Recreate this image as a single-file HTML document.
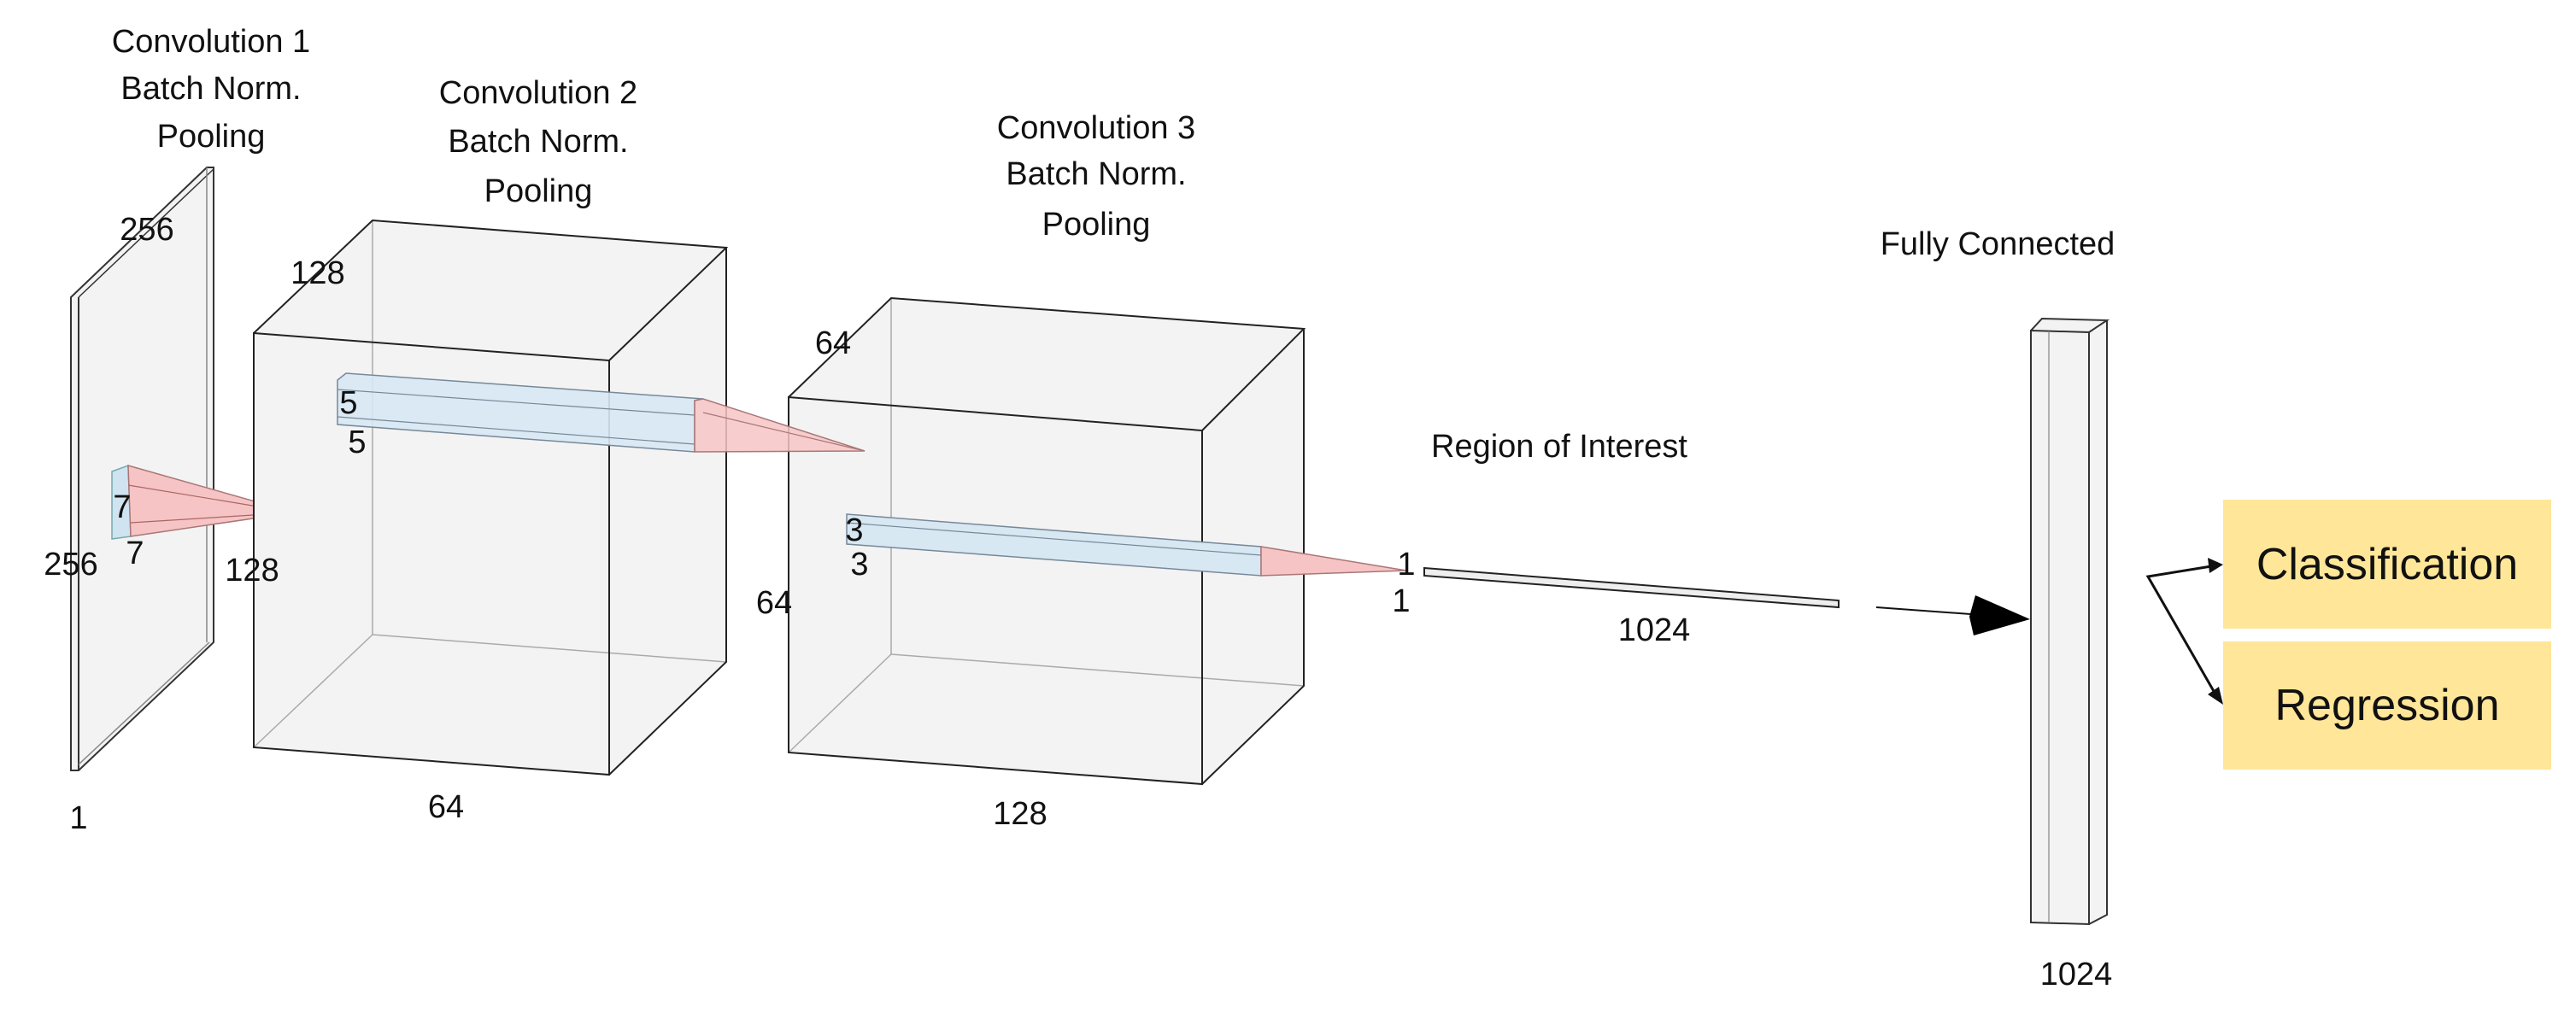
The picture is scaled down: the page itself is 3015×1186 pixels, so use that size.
<!DOCTYPE html>
<html><head><meta charset="utf-8"><style>
html,body{margin:0;padding:0;background:#fff;}
svg{display:block;}
.t{font-family:"Liberation Sans",sans-serif;fill:#111;}
.c{font-family:"Liberation Sans",sans-serif;fill:#111;font-size:38px;}
</style></head><body>
<svg width="3015" height="1186" viewBox="0 0 3015 1186" xmlns="http://www.w3.org/2000/svg">
<g class="c" text-anchor="middle">
<text x="247" y="61">Convolution 1</text>
<text x="247" y="116">Batch Norm.</text>
<text x="247" y="172">Pooling</text>
<text x="630" y="121">Convolution 2</text>
<text x="630" y="178">Batch Norm.</text>
<text x="630" y="236">Pooling</text>
<text x="1283" y="162">Convolution 3</text>
<text x="1283" y="216">Batch Norm.</text>
<text x="1283" y="275">Pooling</text>
<text x="1825" y="535">Region of Interest</text>
<text x="2338" y="298">Fully Connected</text>
</g>

<polygon points="83,348 242,196 250,196 250,752 92,902 83,902" fill="#f3f3f3" stroke="#333" stroke-width="2"/>
<line x1="92" y1="348" x2="92" y2="902" stroke="#333" stroke-width="2"/>
<line x1="92" y1="348" x2="250" y2="198" stroke="#333" stroke-width="1.5"/>
<line x1="242" y1="196" x2="242" y2="752" stroke="#888" stroke-width="1.5"/>
<line x1="92" y1="895" x2="245" y2="752" stroke="#888" stroke-width="1.5"/>

<polygon points="131,552 150,545 153,628 131,631" fill="#cfe3f1" stroke="#7aa" stroke-width="1.5"/>
<polygon points="150,545 344,600 153,628" fill="#f6c4c4" stroke="#a77" stroke-width="1.5"/>
<line x1="150" y1="568" x2="344" y2="600" stroke="#a66" stroke-width="1.2"/>
<line x1="153" y1="612" x2="344" y2="600" stroke="#a66" stroke-width="1.2"/>

<polygon points="297,390 436,258 850,290 850,775 713,907 297,875" fill="#f3f3f3"/>
<g stroke="#aaa" stroke-width="1.5" fill="none">
<line x1="436" y1="258" x2="436" y2="743"/>
<line x1="436" y1="743" x2="850" y2="775"/>
<line x1="436" y1="743" x2="297" y2="875"/>
</g>
<g stroke="#222" stroke-width="2" fill="none">
<polygon points="297,390 713,422 713,907 297,875"/>
<polyline points="297,390 436,258 850,290 713,422"/>
<polyline points="850,290 850,775 713,907"/>
</g>

<polygon points="923,465 1043,349 1526,385 1526,803 1407,918 923,881" fill="#f3f3f3"/>
<g stroke="#aaa" stroke-width="1.5" fill="none">
<line x1="1043" y1="349" x2="1043" y2="766"/>
<line x1="1043" y1="766" x2="1526" y2="803"/>
<line x1="1043" y1="766" x2="923" y2="881"/>
</g>
<g stroke="#222" stroke-width="2" fill="none">
<polygon points="923,465 1407,504 1407,918 923,881"/>
<polyline points="923,465 1043,349 1526,385 1407,504"/>
<polyline points="1526,385 1526,803 1407,918"/>
</g>

<polygon points="395,445 405,437 823,467 813,469 813,529 395,497" fill="#d7e8f3" fill-opacity="0.9" stroke="#789" stroke-width="1.5"/>
<line x1="395" y1="456" x2="813" y2="486" stroke="#789" stroke-width="1.2"/>
<line x1="395" y1="488" x2="813" y2="520" stroke="#789" stroke-width="1.2"/>
<polygon points="813,469 823,467 1012,528 813,529" fill="#f6c4c4" fill-opacity="0.85" stroke="#a77" stroke-width="1.5"/>
<line x1="823" y1="483" x2="1012" y2="528" stroke="#a77" stroke-width="1.2"/>

<polygon points="991,602 1476,640 1476,674 991,637" fill="#d7e8f3" stroke="#789" stroke-width="1.5"/>
<line x1="991" y1="612" x2="1476" y2="650" stroke="#789" stroke-width="1.2"/>
<polygon points="1476,640 1646,668 1476,674" fill="#f6c4c4" stroke="#a77" stroke-width="1.5"/>
<polygon points="1667,665 2152,703 2152,711 1667,674" fill="#eee" stroke="#222" stroke-width="2"/>

<polygon points="2377,387 2390,373 2466,375 2466,1071 2445,1082 2377,1080" fill="#f3f3f3"/>
<g stroke="#333" stroke-width="2" fill="none">
<polygon points="2377,387 2445,389 2445,1082 2377,1080"/>
<polyline points="2377,387 2390,373 2466,375 2445,389"/>
<polyline points="2466,375 2466,1071 2445,1082"/>
</g>
<line x1="2398" y1="388" x2="2398" y2="1080" stroke="#999" stroke-width="1.5"/>

<line x1="2196" y1="711" x2="2320" y2="720" stroke="#111" stroke-width="2"/>
<polygon points="2312,697 2376,725 2310,744 2305,722" fill="#000"/>

<rect x="2602" y="585" width="384" height="151" fill="#ffe699"/>
<rect x="2602" y="751" width="384" height="150" fill="#ffe699"/>
<text class="t" x="2794" y="678" font-size="52" text-anchor="middle">Classification</text>
<text class="t" x="2794" y="843" font-size="52" text-anchor="middle">Regression</text>
<polyline points="2588,663 2514,675 2592,811" fill="none" stroke="#111" stroke-width="3"/>
<polygon points="2602,661 2584,653 2586,671" fill="#111"/>
<polygon points="2602,825 2584,813 2597,804" fill="#111"/>

<g class="c" font-size="36" text-anchor="middle">
<text x="172" y="281">256</text>
<text x="143" y="606">7</text>
<text x="158" y="660">7</text>
<text x="83" y="673">256</text>
<text x="295" y="680">128</text>
<text x="92" y="970">1</text>
<text x="372" y="332">128</text>
<text x="408" y="484">5</text>
<text x="418" y="530">5</text>
<text x="522" y="957">64</text>
<text x="975" y="414">64</text>
<text x="906" y="718">64</text>
<text x="1000" y="633">3</text>
<text x="1006" y="673">3</text>
<text x="1194" y="965">128</text>
<text x="1646" y="673">1</text>
<text x="1640" y="716">1</text>
<text x="1936" y="750">1024</text>
<text x="2430" y="1153">1024</text>
</g>
</svg>
</body></html>
